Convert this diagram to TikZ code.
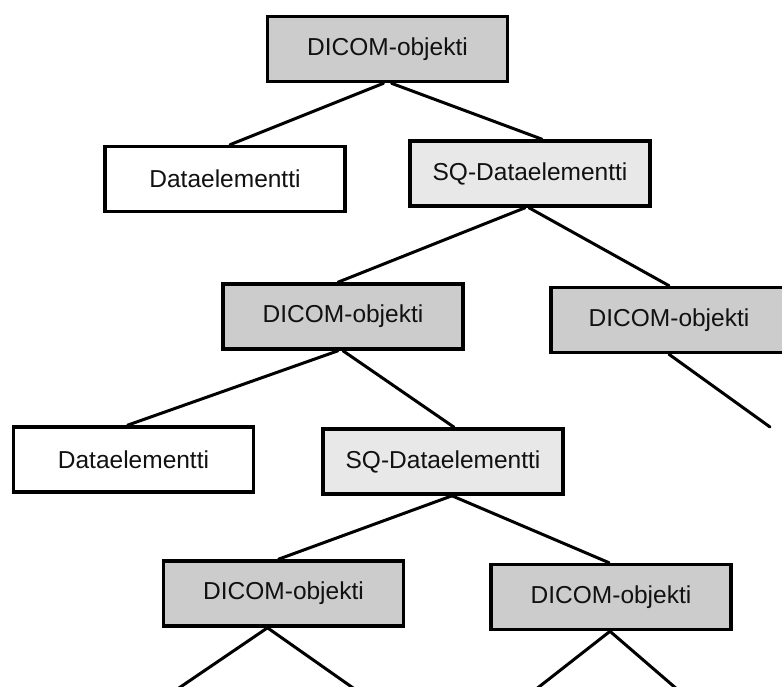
\documentclass[tikz,border=0pt]{standalone}
\usepackage{fontspec}
\setmainfont{Liberation Sans}
\definecolor{objgray}{HTML}{CCCCCC}
\definecolor{sqgray}{HTML}{E8E8E8}
\definecolor{txt}{HTML}{111111}
\begin{document}
\begin{tikzpicture}[x=1pt,y=-1pt,
  box/.style={draw=black, line width=3.6pt, minimum width=240pt, minimum height=65pt,
    inner sep=0pt, font=\fontsize{24.5}{27}\selectfont, text=txt},
  objbox/.style={box, fill=objgray},
  sqbox/.style={box, fill=sqgray},
  databox/.style={box, fill=white},
  link/.style={draw=black, line width=3pt, line cap=round}]
\useasboundingbox (0,0) rectangle (782,687);
\clip (0,0) rectangle (782,687);
\fill[white] (0,0) rectangle (782,687);

\node[objbox]  (top) at (387.5,49)   {DICOM-objekti};
\node[databox] (d1)  at (225,179)    {Dataelementti};
\node[sqbox]   (sq1) at (530,173.5)  {SQ-Dataelementti};
\node[objbox]  (ml)  at (343,316.5)  {DICOM-objekti};
\node[objbox, minimum width=236pt] (mr) at (669,320) {DICOM-objekti};
\node[databox] (d2)  at (133.5,459.5) {Dataelementti};
\node[sqbox]   (sq2) at (443,461.5)  {SQ-Dataelementti};
\node[objbox]  (ll)  at (283.5,593.5) {DICOM-objekti};
\node[objbox]  (lr)  at (611,597)    {DICOM-objekti};

\coordinate (mrend) at (770,427);
\coordinate (llend1) at (176,690);
\coordinate (llend2) at (356,690);
\coordinate (lrend1) at (535,690);
\coordinate (lrend2) at (678,690);

\path[link] ([xshift=-4pt]top.south) -- ([xshift=5pt]d1.north);
\path[link] ([xshift=4pt]top.south) -- ([xshift=12pt]sq1.north);
\path[link] ([xshift=-5pt]sq1.south) -- ([xshift=-5pt]ml.north);
\path[link] ([xshift=-1pt]sq1.south) -- (mr.north);
\path[link] ([xshift=-5pt]ml.south) -- ([xshift=-6pt]d2.north);
\path[link] (ml.south) -- ([xshift=11pt]sq2.north);
\path[link] (mr.south) -- (mrend);
\path[link] ([xshift=9pt]sq2.south) -- ([xshift=-5pt]ll.north);
\path[link] ([xshift=9pt]sq2.south) -- ([xshift=-2pt]lr.north);
\path[link] ([xshift=-16pt]ll.south) -- (llend1);
\path[link] ([xshift=-16pt]ll.south) -- (llend2);
\path[link] ([xshift=-1pt]lr.south) -- (lrend1);
\path[link] ([xshift=-1pt]lr.south) -- (lrend2);
\end{tikzpicture}
\end{document}
